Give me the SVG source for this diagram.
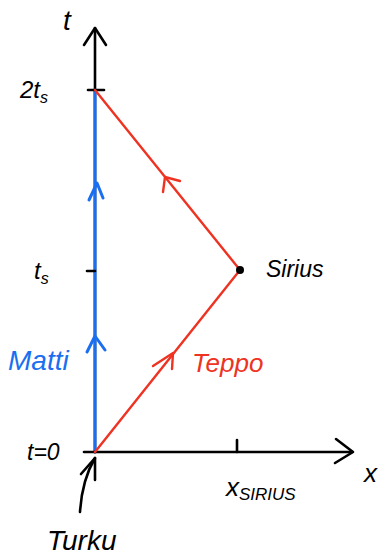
<svg xmlns="http://www.w3.org/2000/svg" width="386" height="556" viewBox="0 0 386 556">
<style>
.k{stroke:#000;stroke-width:2.6;fill:none;stroke-linecap:round;stroke-linejoin:round}
.b{stroke:#1a6ff0;stroke-width:3;fill:none;stroke-linecap:round;stroke-linejoin:round}
.r{stroke:#ee3322;stroke-width:2.4;fill:none;stroke-linecap:round;stroke-linejoin:round}
.t{font-family:"Liberation Sans",sans-serif;font-style:italic;fill:#000}
</style>
<rect width="386" height="556" fill="#fff"/>
<g id="connectors">
<path class="k" d="M95 452 L95 28"/>
<path class="k" d="M84 45 L95 28 L106 45"/>
<path class="b" d="M95 452 L95 90"/>
<path class="k" d="M95 452 L352 452"/>
<path class="k" d="M336 439 L353 452 L335 463"/>
<path class="k" d="M88 90 L104 90"/>
<path class="k" d="M87 271 L95 271"/>
<path class="k" d="M84 452 L95 452"/>
<path class="k" d="M237 440 L237 452"/>
<path class="b" d="M89 200 L97 183 L103 198"/>
<path class="b" d="M87 352 L95 336 L105 350"/>
<path class="r" d="M95 452 L240 270 L95 90"/>
<path class="r" d="M153 366 L173 353 L172 369"/>
<path class="r" d="M163 192 L165 177 L180 181"/>
<path class="k" d="M80 512 Q82 480 95 458"/>
<path class="k" d="M81 474 L95 458 L95 480"/>
</g>
<g id="sirius"><circle cx="240" cy="270" r="4" fill="#000"/><text class="t" x="266" y="277" font-size="23">Sirius</text></g>
<g id="t-axis"><text class="t" x="63" y="30" font-size="28">t</text></g>
<g id="x-axis"><text class="t" x="364" y="482" font-size="26">x</text></g>
<g id="t2"><text class="t" x="20" y="98" font-size="24">2t<tspan font-size="16" dy="5">s</tspan></text></g>
<g id="t1"><text class="t" x="34" y="279" font-size="24">t<tspan font-size="16" dy="5">s</tspan></text></g>
<g id="t0"><text class="t" x="27" y="460" font-size="23">t=0</text></g>
<g id="matti"><text class="t" x="8" y="370" font-size="28" style="fill:#1a6ff0">Matti</text></g>
<g id="teppo"><text class="t" x="192" y="372" font-size="26" style="fill:#ee3322">Teppo</text></g>
<g id="xsirius"><text class="t" x="226" y="496" font-size="26">x<tspan font-size="17" dy="4">SIRIUS</tspan></text></g>
<g id="turku"><text class="t" x="47" y="550" font-size="28">Turku</text></g>
</svg>
